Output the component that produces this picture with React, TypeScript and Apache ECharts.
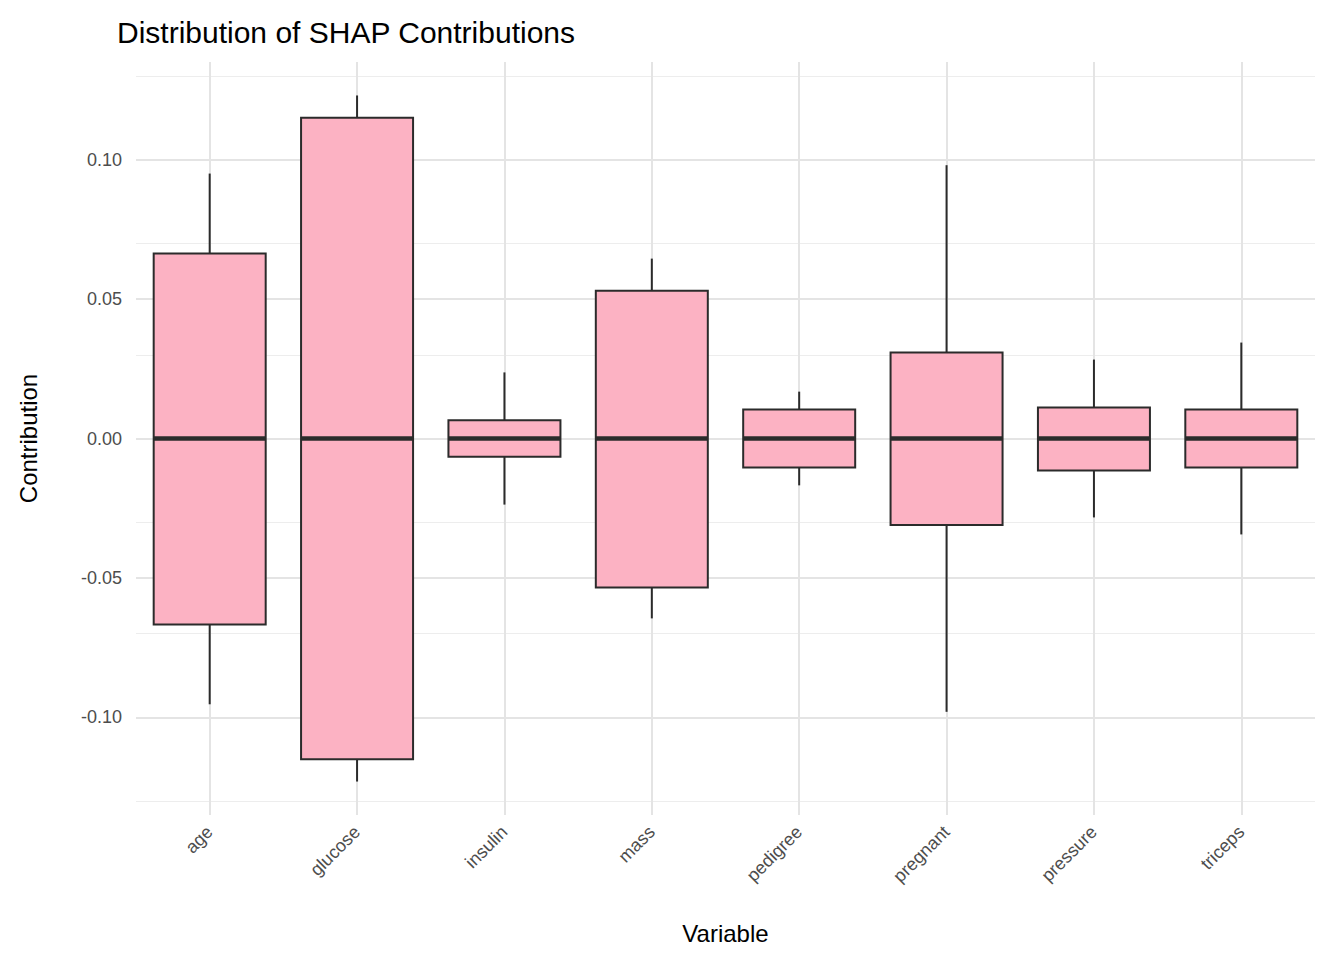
import * as echarts from "echarts";
import { useEffect, useRef } from "react";

const variables = ["age", "glucose", "insulin", "mass", "pedigree", "pregnant", "pressure", "triceps"];
// [lower whisker, Q1, median, Q3, upper whisker]
const boxes = [
  [-0.0953, -0.0667, 0, 0.0663, 0.095],
  [-0.123, -0.115, 0, 0.115, 0.123],
  [-0.0237, -0.0065, 0, 0.0065, 0.0237],
  [-0.0645, -0.0534, 0, 0.053, 0.0645],
  [-0.0168, -0.0104, 0, 0.0104, 0.0168],
  [-0.098, -0.031, 0, 0.0308, 0.098],
  [-0.0283, -0.0115, 0, 0.0111, 0.0283],
  [-0.0344, -0.0104, 0, 0.0104, 0.0344]
];
const yTicks = [-0.1, -0.05, 0, 0.05, 0.1];
const yMinor = [-0.125, -0.075, -0.025, 0.025, 0.075, 0.125];

const font = "Liberation Sans, Arial, Helvetica, sans-serif";

export default function App() {
  const ref = useRef<HTMLDivElement | null>(null);

  useEffect(() => {
    if (!ref.current) return;
    const chart = echarts.init(ref.current, undefined, { renderer: "svg" });
    chart.setOption({
      animation: false,
      textStyle: { fontFamily: font },
      title: {
        text: "Distribution of SHAP Contributions",
        left: 104,
        top: 4,
        textStyle: { fontSize: 30, fontWeight: "normal", color: "#000", fontFamily: font }
      },
      grid: { left: 123, right: 21, top: 54, bottom: 137 },
      xAxis: {
        type: "category",
        data: variables,
        name: "Variable",
        nameLocation: "middle",
        nameGap: 106,
        nameTextStyle: { fontSize: 24, color: "#000" },
        axisLine: { show: false },
        axisTick: { show: false },
        splitLine: { show: false },
        axisLabel: { rotate: 45, fontSize: 18, color: "#4d4d4d", margin: 14 }
      },
      yAxis: {
        type: "value",
        min: -0.135,
        max: 0.135,
        name: "Contribution",
        nameLocation: "middle",
        nameGap: 96,
        nameTextStyle: { fontSize: 24, color: "#000" },
        axisLine: { show: false },
        axisTick: { show: false },
        splitLine: { show: false },
        axisLabel: {
          customValues: yTicks,
          fontSize: 18,
          color: "#4d4d4d",
          margin: 14,
          formatter: (v: number) => v.toFixed(2)
        }
      },
      series: [
        {
          type: "line",
          data: [],
          silent: true,
          z: 0,
          markLine: {
            silent: true,
            symbol: "none",
            label: { show: false },
            data: [
              ...yMinor.map((v) => ({ yAxis: v, lineStyle: { color: "#ededed", width: 1, type: "solid" } })),
              ...yTicks.map((v) => ({ yAxis: v, lineStyle: { color: "#e4e4e4", width: 2, type: "solid" } })),
              ...variables.map((v) => ({ xAxis: v, lineStyle: { color: "#e4e4e4", width: 2, type: "solid" } }))
            ]
          }
        },
        {
          type: "custom",
          z: 5,
          data: boxes.map((b, i) => [i, ...b]),
          renderItem: (params: any, api: any) => {
            const i = api.value(0);
            const lo = api.coord([i, api.value(1)]);
            const q1 = api.coord([i, api.value(2)]);
            const md = api.coord([i, api.value(3)]);
            const q3 = api.coord([i, api.value(4)]);
            const hi = api.coord([i, api.value(5)]);
            const w = 112;
            const x = lo[0];
            const stroke = { stroke: "#2b2b2b", lineWidth: 2 };
            return {
              type: "group",
              children: [
                { type: "line", shape: { x1: x, y1: hi[1], x2: x, y2: q3[1] }, style: stroke },
                { type: "line", shape: { x1: x, y1: q1[1], x2: x, y2: lo[1] }, style: stroke },
                {
                  type: "rect",
                  shape: { x: x - w / 2, y: q3[1], width: w, height: q1[1] - q3[1] },
                  style: { fill: "#fcb2c3", stroke: "#2b2b2b", lineWidth: 2 }
                },
                {
                  type: "line",
                  shape: { x1: x - w / 2, y1: md[1], x2: x + w / 2, y2: md[1] },
                  style: { stroke: "#2b2b2b", lineWidth: 4.5 }
                }
              ]
            };
          }
        }
      ]
    });
    return () => chart.dispose();
  }, []);

  return <div ref={ref} style={{ width: 1328, height: 944 }} />;
}
